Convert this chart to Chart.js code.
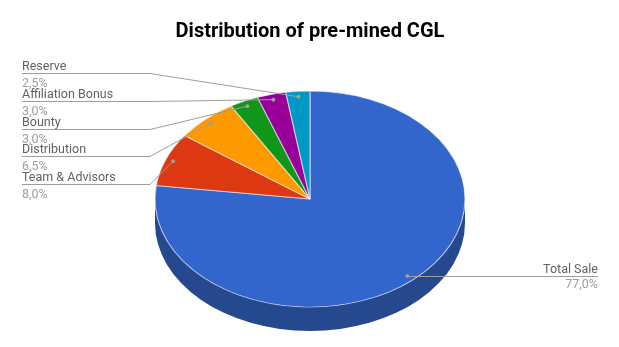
<!DOCTYPE html>
<html>
<head>
<meta charset="utf-8">
<script src="https://cdn.jsdelivr.net/npm/chart.js@4/dist/chart.umd.min.js"></script>
<style>
  html, body { margin: 0; padding: 0; background: #fff; }
  #wrap { width: 619px; height: 347px; position: relative; }
</style>
</head>
<body>
<div id="wrap"><canvas id="c" width="619" height="347"></canvas></div>
<script>
const chartTitle = 'Distribution of pre-mined CGL';
const categories = ['Total Sale', 'Team & Advisors', 'Distribution', 'Bounty', 'Affiliation Bonus', 'Reserve'];
const shares = [77.0, 8.0, 6.5, 3.0, 3.0, 2.5];
const sliceColors = ['#3366cc', '#dc3912', '#ff9900', '#109618', '#990099', '#0099c6'];
const sideColors  = ['#25488f', '#9a280d', '#b36b00', '#0b6911', '#6b006b', '#006b8a'];

const TILT = 0.697;   // vertical squash of the pie face
const DEPTH = 24;     // thickness of the 3D pie
const DOT = 0.95;     // relative radius of label anchor dots

function geom(chart) {
  const a = chart.chartArea;
  const cx = (a.left + a.right) / 2;
  const rx = (a.right - a.left) / 2;
  const ry = rx * TILT;
  const cy = a.top + ry;
  return { cx, cy, rx, ry };
}

const pie3d = {
  id: 'pie3d',
  beforeDatasetsDraw(chart) {
    const ctx = chart.ctx;
    const meta = chart.getDatasetMeta(0);
    const g = geom(chart);
    // side walls
    meta.data.forEach((arc, i) => {
      const s0 = arc.startAngle, e0 = arc.endAngle;
      [[0, Math.PI], [2 * Math.PI, 3 * Math.PI], [-2 * Math.PI, -Math.PI]].forEach(([lo, hi]) => {
        const s = Math.max(s0, lo), e = Math.min(e0, hi);
        if (e <= s) return;
        ctx.save();
        ctx.beginPath();
        ctx.ellipse(g.cx, g.cy, g.rx, g.ry, 0, s, e);
        ctx.ellipse(g.cx, g.cy + DEPTH, g.rx, g.ry, 0, e, s, true);
        ctx.closePath();
        ctx.fillStyle = sideColors[i];
        ctx.fill();
        ctx.restore();
      });
    });
    // map the library's circular pie onto the tilted ellipse
    const arc0 = meta.data[0];
    const R = arc0.outerRadius;
    ctx.save();
    ctx.translate(g.cx, g.cy);
    ctx.scale(g.rx / R, g.ry / R);
    ctx.translate(-arc0.x, -arc0.y);
  },
  afterDatasetsDraw(chart) {
    chart.ctx.restore();
  },
  afterDraw(chart) {
    const ctx = chart.ctx;
    const meta = chart.getDatasetMeta(0);
    const g = geom(chart);
    const pts = meta.data.map((arc, i) => {
      const t = (arc.startAngle + arc.endAngle) / 2;
      return {
        i,
        x: g.cx + DOT * g.rx * Math.cos(t),
        y: g.cy + DOT * g.ry * Math.sin(t)
      };
    });
    const fmt = v => v.toFixed(1).replace('.', ',') + '%';
    ctx.save();
    ctx.lineWidth = 1;
    ctx.strokeStyle = '#9e9e9e';
    ctx.font = '12.5px Roboto';
    ctx.textBaseline = 'alphabetic';

    // right side labels
    pts.filter(p => p.x >= g.cx).forEach(p => {
      const endX = 598;
      const ly = Math.round(p.y) + 0.5;
      ctx.beginPath();
      ctx.moveTo(p.x, ly);
      ctx.lineTo(endX, ly);
      ctx.stroke();
      ctx.textAlign = 'right';
      ctx.fillStyle = '#616161';
      ctx.fillText(categories[p.i], endX, ly - 4);
      ctx.fillStyle = '#9e9e9e';
      ctx.fillText(fmt(shares[p.i]), endX, ly + 11.5);
      ctx.fillStyle = '#9e9e9e';
      ctx.beginPath();
      ctx.arc(p.x, p.y, 2, 0, Math.PI * 2);
      ctx.fill();
    });

    // left side labels, stacked from the top
    const left = pts.filter(p => p.x < g.cx).sort((a, b) => a.y - b.y);
    const x0 = 22, elbow = 150, top = 73, gap = 27.75;
    left.forEach((p, k) => {
      const ly = Math.round(top + k * gap) + 0.5;
      ctx.beginPath();
      ctx.moveTo(x0, ly);
      ctx.lineTo(elbow, ly);
      ctx.lineTo(p.x, p.y);
      ctx.stroke();
      ctx.textAlign = 'left';
      ctx.fillStyle = '#616161';
      ctx.fillText(categories[p.i], x0, ly - 3.5);
      ctx.fillStyle = '#9e9e9e';
      ctx.fillText(fmt(shares[p.i]), x0, ly + 13);
      ctx.beginPath();
      ctx.arc(p.x, p.y, 2, 0, Math.PI * 2);
      ctx.fill();
    });
    ctx.restore();
  }
};

new Chart(document.getElementById('c'), {
  type: 'pie',
  data: {
    labels: categories,
    datasets: [{
      data: shares,
      backgroundColor: sliceColors,
      borderColor: 'rgba(255,255,255,0.55)',
      borderWidth: 1,
      clip: false
    }]
  },
  options: {
    responsive: false,
    animation: false,
    events: [],
    layout: { padding: { left: 155, right: 154, top: 0, bottom: 0 } },
    plugins: {
      legend: { display: false },
      tooltip: { enabled: false },
      title: {
        display: true,
        text: chartTitle,
        color: '#000',
        font: { family: 'Roboto', size: 20, weight: 'bold', lineHeight: 1.2 },
        padding: { top: 20, bottom: 47 }
      }
    }
  },
  plugins: [pie3d]
});
</script>
</body>
</html>
